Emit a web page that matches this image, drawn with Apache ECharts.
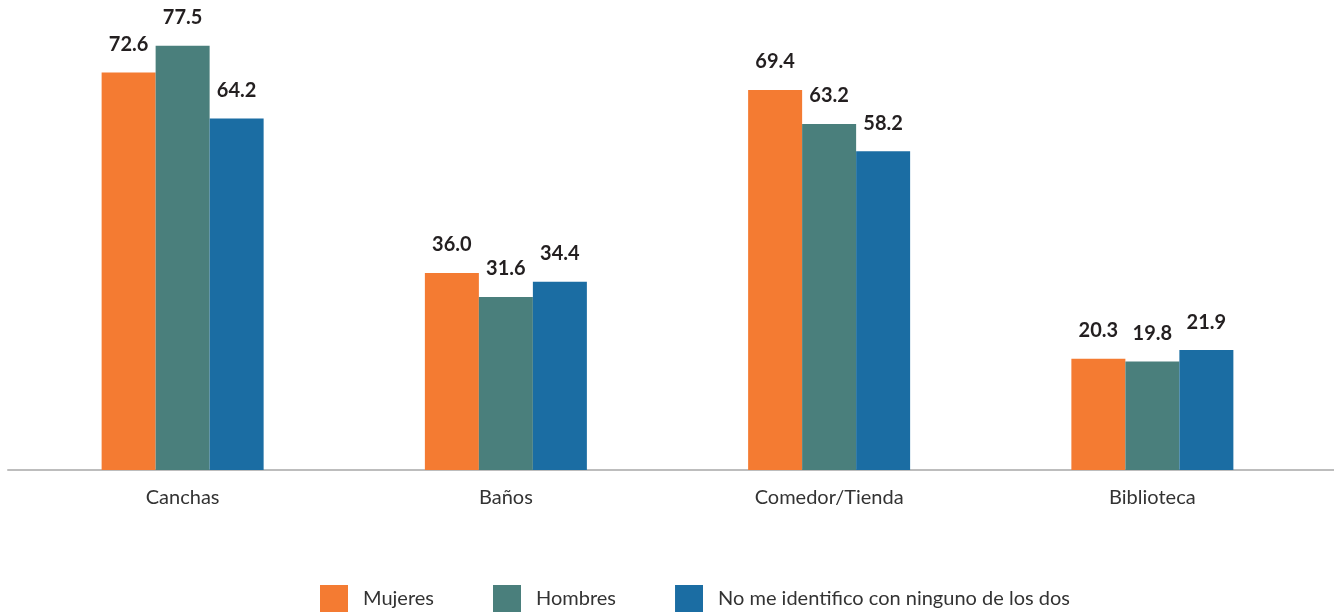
<!DOCTYPE html>
<html>
<head>
<meta charset="utf-8">
<script src="https://cdn.jsdelivr.net/npm/echarts@6/dist/echarts.min.js"></script>
<style>
  html, body { margin: 0; padding: 0; background: #ffffff; }
  #chart { width: 1334px; height: 612px; }
</style>
</head>
<body>
<div id="chart"></div>
<script>
// Espacios de la escuela, porcentaje por grupo
const categories = ['Canchas', 'Baños', 'Comedor/Tienda', 'Biblioteca'];
const seriesNames = ['Mujeres', 'Hombres', 'No me identifico con ninguno de los dos'];
const mujeres = [72.6, 36.0, 69.4, 20.3];
const hombres = [77.5, 31.6, 63.2, 19.8];
const ninguno = [64.2, 34.4, 58.2, 21.9];
const colors = ['#F47B32', '#4A7F7C', '#1B6DA3'];

const FONT = 'Lato, "Open Sans", sans-serif';

function barSeries(name, data, color) {
  return {
    name: name,
    type: 'bar',
    xAxisIndex: 0,
    yAxisIndex: 0,
    data: data,
    barWidth: 54,
    barGap: '0%',
    itemStyle: { color: color },
    label: {
      show: true,
      position: 'top',
      distance: 18,
      formatter: p => p.value.toFixed(1),
      fontFamily: FONT,
      fontWeight: 'bold',
      fontSize: 20,
      color: '#231F20'
    },
    emphasis: { disabled: true }
  };
}

const chart = echarts.init(document.getElementById('chart'), null, { renderer: 'canvas' });
chart.setOption({
  animation: false,
  color: colors,
  grid: [
    { left: 21, right: 20, top: 32, bottom: 142 },
    // full-width baseline
    { left: 8, right: 0, top: 32, bottom: 142 }
  ],
  xAxis: [
    {
      type: 'category',
      gridIndex: 0,
      data: categories,
      axisLine: { show: false },
      axisTick: { show: false },
      axisLabel: {
        margin: 18,
        fontFamily: FONT,
        fontSize: 20,
        color: '#333333'
      }
    },
    {
      type: 'value',
      gridIndex: 1,
      min: 0,
      max: 1,
      axisLine: { show: true, lineStyle: { color: '#BDBDBD', width: 2 } },
      axisTick: { show: false },
      axisLabel: { show: false },
      splitLine: { show: false }
    }
  ],
  yAxis: [
    {
      type: 'value',
      gridIndex: 0,
      min: 0,
      max: 80,
      show: false
    },
    {
      type: 'value',
      gridIndex: 1,
      min: 0,
      max: 1,
      show: false
    }
  ],
  legend: {
    data: seriesNames,
    left: 320,
    top: 585,
    padding: 0,
    itemWidth: 28,
    itemHeight: 28,
    itemGap: 59,
    icon: 'rect',
    selectedMode: false,
    textStyle: {
      fontFamily: FONT,
      fontSize: 20,
      color: '#333333',
      padding: [0, 0, 0, 10]
    }
  },
  series: [
    barSeries(seriesNames[0], mujeres, colors[0]),
    barSeries(seriesNames[1], hombres, colors[1]),
    barSeries(seriesNames[2], ninguno, colors[2])
  ]
});
</script>
</body>
</html>
